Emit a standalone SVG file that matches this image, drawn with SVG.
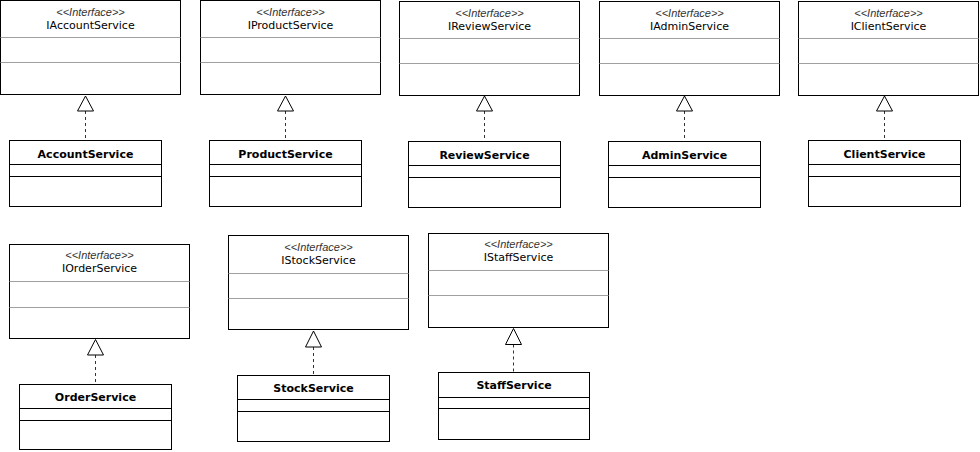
<svg xmlns="http://www.w3.org/2000/svg" width="980" height="452" viewBox="0 0 980 452">
<style>
.box{fill:#fff;stroke:#000;stroke-width:1}
.isep{stroke:#a0a0a0;stroke-width:1}
.csep{stroke:#000;stroke-width:1}
.stereo{font-family:"Liberation Sans",Arial,sans-serif;font-size:11px;font-style:italic;fill:#333;text-anchor:middle}
.iname{font-family:"DejaVu Sans",Verdana,sans-serif;font-size:11px;fill:#000;text-anchor:middle}
.cname{font-family:"DejaVu Sans",Verdana,sans-serif;font-size:11px;font-weight:bold;fill:#000;text-anchor:middle}
.dash{stroke:#333;stroke-width:1;stroke-dasharray:3,3;fill:none}
.tri{fill:#fff;stroke:#000;stroke-width:1}
</style>
<rect width="980" height="452" fill="#fff"/>
<g id="connectors">
  <line class="dash" x1="85.5" y1="111" x2="85.5" y2="140.5"/>
  <polygon class="tri" points="85.5,96 77.5,111 93.5,111"/>
  <line class="dash" x1="285.5" y1="111" x2="285.5" y2="140.5"/>
  <polygon class="tri" points="285.5,96 277.5,111 293.5,111"/>
  <line class="dash" x1="484.5" y1="111" x2="484.5" y2="141.5"/>
  <polygon class="tri" points="484.5,96 476.5,111 492.5,111"/>
  <line class="dash" x1="684.5" y1="111" x2="684.5" y2="141.5"/>
  <polygon class="tri" points="684.5,96 676.5,111 692.5,111"/>
  <line class="dash" x1="884.5" y1="111" x2="884.5" y2="140.5"/>
  <polygon class="tri" points="884.5,96 876.5,111 892.5,111"/>
  <line class="dash" x1="95.5" y1="355" x2="95.5" y2="384.5"/>
  <polygon class="tri" points="95.5,339.5 87.5,355 103.5,355"/>
  <line class="dash" x1="313.5" y1="347" x2="313.5" y2="375.5"/>
  <polygon class="tri" points="313.5,331 305.5,347 321.5,347"/>
  <line class="dash" x1="513.5" y1="344.5" x2="513.5" y2="372.5"/>
  <polygon class="tri" points="513.5,328.5 505.5,344.5 521.5,344.5"/>
</g>
<g id="IAccountService">
  <rect class="box" x="0.5" y="0.5" width="180" height="94"/>
  <line class="isep" x1="0.5" y1="37.5" x2="180.5" y2="37.5"/>
  <line class="isep" x1="0.5" y1="62.5" x2="180.5" y2="62.5"/>
  <text class="stereo" x="90.5" y="15.5">&lt;&lt;Interface&gt;&gt;</text>
  <text class="iname" x="90.5" y="28.5">IAccountService</text>
</g>
<g id="IProductService">
  <rect class="box" x="200.5" y="0.5" width="180" height="94"/>
  <line class="isep" x1="200.5" y1="37.5" x2="380.5" y2="37.5"/>
  <line class="isep" x1="200.5" y1="62.5" x2="380.5" y2="62.5"/>
  <text class="stereo" x="290.5" y="15.5">&lt;&lt;Interface&gt;&gt;</text>
  <text class="iname" x="290.5" y="28.5">IProductService</text>
</g>
<g id="IReviewService">
  <rect class="box" x="399.5" y="1.5" width="180" height="94"/>
  <line class="isep" x1="399.5" y1="38.5" x2="579.5" y2="38.5"/>
  <line class="isep" x1="399.5" y1="63.5" x2="579.5" y2="63.5"/>
  <text class="stereo" x="489.5" y="16.5">&lt;&lt;Interface&gt;&gt;</text>
  <text class="iname" x="489.5" y="29.5">IReviewService</text>
</g>
<g id="IAdminService">
  <rect class="box" x="599.5" y="1.5" width="180" height="94"/>
  <line class="isep" x1="599.5" y1="38.5" x2="779.5" y2="38.5"/>
  <line class="isep" x1="599.5" y1="63.5" x2="779.5" y2="63.5"/>
  <text class="stereo" x="689.5" y="16.5">&lt;&lt;Interface&gt;&gt;</text>
  <text class="iname" x="689.5" y="29.5">IAdminService</text>
</g>
<g id="IClientService">
  <rect class="box" x="798.5" y="1.5" width="180" height="94"/>
  <line class="isep" x1="798.5" y1="38.5" x2="978.5" y2="38.5"/>
  <line class="isep" x1="798.5" y1="63.5" x2="978.5" y2="63.5"/>
  <text class="stereo" x="888.5" y="16.5">&lt;&lt;Interface&gt;&gt;</text>
  <text class="iname" x="888.5" y="29.5">IClientService</text>
</g>
<g id="AccountService">
  <rect class="box" x="9.5" y="140.5" width="152" height="66"/>
  <line class="csep" x1="9.5" y1="164.5" x2="161.5" y2="164.5"/>
  <line class="csep" x1="9.5" y1="176.5" x2="161.5" y2="176.5"/>
  <text class="cname" x="85.5" y="158">AccountService</text>
</g>
<g id="ProductService">
  <rect class="box" x="209.5" y="140.5" width="152" height="66"/>
  <line class="csep" x1="209.5" y1="164.5" x2="361.5" y2="164.5"/>
  <line class="csep" x1="209.5" y1="176.5" x2="361.5" y2="176.5"/>
  <text class="cname" x="285.5" y="158">ProductService</text>
</g>
<g id="ReviewService">
  <rect class="box" x="408.5" y="141.5" width="152" height="66"/>
  <line class="csep" x1="408.5" y1="165.5" x2="560.5" y2="165.5"/>
  <line class="csep" x1="408.5" y1="177.5" x2="560.5" y2="177.5"/>
  <text class="cname" x="484.5" y="159">ReviewService</text>
</g>
<g id="AdminService">
  <rect class="box" x="608.5" y="141.5" width="152" height="66"/>
  <line class="csep" x1="608.5" y1="165.5" x2="760.5" y2="165.5"/>
  <line class="csep" x1="608.5" y1="177.5" x2="760.5" y2="177.5"/>
  <text class="cname" x="684.5" y="159">AdminService</text>
</g>
<g id="ClientService">
  <rect class="box" x="808.5" y="140.5" width="152" height="66"/>
  <line class="csep" x1="808.5" y1="164.5" x2="960.5" y2="164.5"/>
  <line class="csep" x1="808.5" y1="176.5" x2="960.5" y2="176.5"/>
  <text class="cname" x="884.5" y="158">ClientService</text>
</g>
<g id="IOrderService">
  <rect class="box" x="9.5" y="244.5" width="180" height="94"/>
  <line class="isep" x1="9.5" y1="281.5" x2="189.5" y2="281.5"/>
  <line class="isep" x1="9.5" y1="307.5" x2="189.5" y2="307.5"/>
  <text class="stereo" x="99.5" y="258.5">&lt;&lt;Interface&gt;&gt;</text>
  <text class="iname" x="99.5" y="272">IOrderService</text>
</g>
<g id="OrderService">
  <rect class="box" x="19.5" y="384.5" width="152" height="65"/>
  <line class="csep" x1="19.5" y1="408.5" x2="171.5" y2="408.5"/>
  <line class="csep" x1="19.5" y1="420.5" x2="171.5" y2="420.5"/>
  <text class="cname" x="95.5" y="401">OrderService</text>
</g>
<g id="IStockService">
  <rect class="box" x="228.5" y="235.5" width="180" height="94"/>
  <line class="isep" x1="228.5" y1="273.5" x2="408.5" y2="273.5"/>
  <line class="isep" x1="228.5" y1="298.5" x2="408.5" y2="298.5"/>
  <text class="stereo" x="318.5" y="251">&lt;&lt;Interface&gt;&gt;</text>
  <text class="iname" x="318.5" y="264">IStockService</text>
</g>
<g id="StockService">
  <rect class="box" x="237.5" y="375.5" width="152" height="66"/>
  <line class="csep" x1="237.5" y1="399.5" x2="389.5" y2="399.5"/>
  <line class="csep" x1="237.5" y1="411.5" x2="389.5" y2="411.5"/>
  <text class="cname" x="313.5" y="392">StockService</text>
</g>
<g id="IStaffService">
  <rect class="box" x="428.5" y="233.5" width="180" height="94"/>
  <line class="isep" x1="428.5" y1="270.5" x2="608.5" y2="270.5"/>
  <line class="isep" x1="428.5" y1="295.5" x2="608.5" y2="295.5"/>
  <text class="stereo" x="518.5" y="248">&lt;&lt;Interface&gt;&gt;</text>
  <text class="iname" x="518.5" y="261">IStaffService</text>
</g>
<g id="StaffService">
  <rect class="box" x="438.5" y="372.5" width="151" height="67"/>
  <line class="csep" x1="438.5" y1="397.5" x2="589.5" y2="397.5"/>
  <line class="csep" x1="438.5" y1="408.5" x2="589.5" y2="408.5"/>
  <text class="cname" x="514" y="389">StaffService</text>
</g>
</svg>
